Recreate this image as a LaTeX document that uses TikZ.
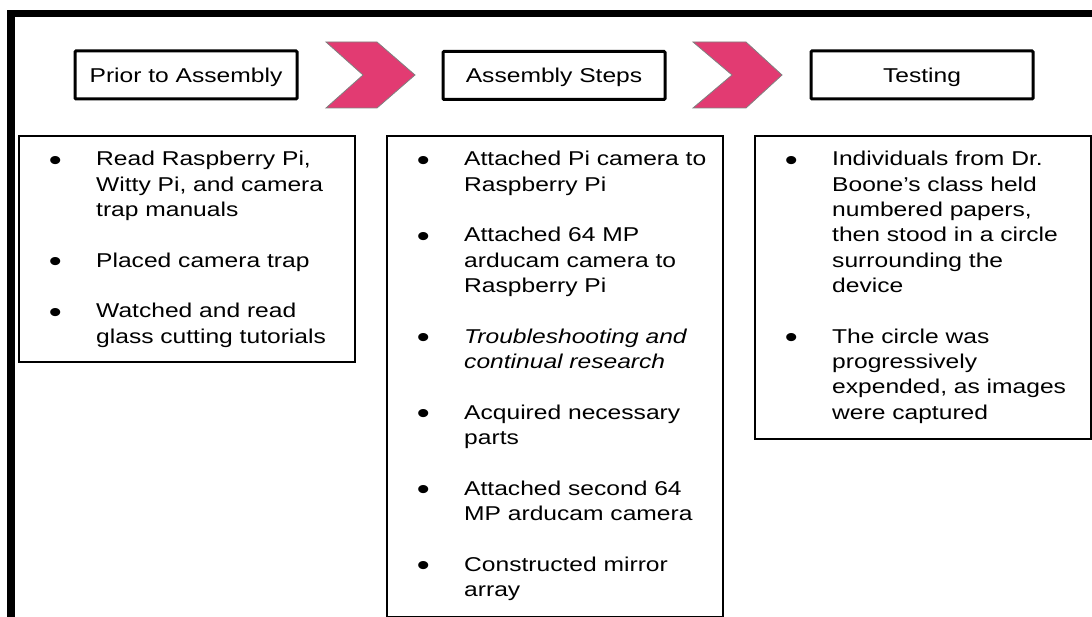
\documentclass[tikz,border=0pt]{standalone}
\usepackage{fontspec}
\setmainfont{Liberation Sans}[FakeStretch=1.23]
\definecolor{chev}{RGB}{226,59,114}
\newcommand\bodyfont{\fontsize{20pt}{25.35pt}\selectfont}
\newcommand\bul{\leavevmode\llap{\raisebox{-4.6pt}{\fontsize{30pt}{30pt}\selectfont\textbullet}\hspace{34.5pt}}}
\newcommand\gap{\\[25.35pt]}
\tikzset{
  header/.style={draw=black, line width=3pt, rounded corners=1pt,
    minimum width=222pt, minimum height=48pt, inner sep=0pt,
    text height=15pt, text depth=0pt, font=\bodyfont},
  panel/.style={draw=black, line width=2pt, anchor=north west, inner sep=0pt},
  chevron/.style={fill=chev, draw=gray, line width=0.8pt},
  itemtext/.style={anchor=base west, inner sep=0pt, font=\bodyfont},
}
\begin{document}
\begin{tikzpicture}[x=1pt,y=-1pt]
\useasboundingbox (0,0) rectangle (1092,617);
\clip (0,0) rectangle (1092,617);

% frame along the top and left edge
\draw[line width=7.5pt] (11,640) -- (11,13.5) -- (1110,13.5);

% stage headers
\node[header] (prior) at (186,75) {Prior to Assembly};
\node[header] (steps) at (554,75.5) {Assembly Steps};
\node[header] (test) at (922,75) {Testing};

% chevrons between the stages
\draw[chevron] (326,42) -- (377,42) -- (415,75) -- (377,108) -- (326,108) -- (363,75) -- cycle;
\draw[chevron] (693,42) -- (746,42) -- (782,75) -- (746,108) -- (693,108) -- (732,75) -- cycle;

% panels under each stage
\node[panel, minimum width=336pt, minimum height=226pt] (priorbox) at (18,135) {};
\node[panel, minimum width=336pt, minimum height=481pt] (stepsbox) at (386,135) {};
\node[panel, minimum width=336pt, minimum height=303pt] (testbox) at (754,135) {};

% panel contents
\node[itemtext] (priortext) at (96,165.7) {\parbox[t]{270pt}{\raggedright
  \bul Read Raspberry Pi,\\ Witty Pi, and camera\\ trap manuals\gap
  \bul Placed camera trap\gap
  \bul Watched and read\\ glass cutting tutorials}};

\node[itemtext] (stepstext) at (464,165.7) {\parbox[t]{270pt}{\raggedright
  \bul Attached Pi camera to\\ Raspberry Pi\gap
  \bul Attached 64 MP\\ arducam camera to\\ Raspberry Pi\gap
  \bul {\itshape Troubleshooting and\\ continual research}\gap
  \bul Acquired necessary\\ parts\gap
  \bul Attached second 64\\ MP arducam camera\gap
  \bul Constructed mirror\\ array}};

\node[itemtext] (testtext) at (832,165.7) {\parbox[t]{270pt}{\raggedright
  \bul Individuals from Dr.\\ Boone’s class held\\ numbered papers,\\ then stood in a circle\\ surrounding the\\ device\gap
  \bul The circle was\\ progressively\\ expended, as images\\ were captured}};
\end{tikzpicture}
\end{document}
